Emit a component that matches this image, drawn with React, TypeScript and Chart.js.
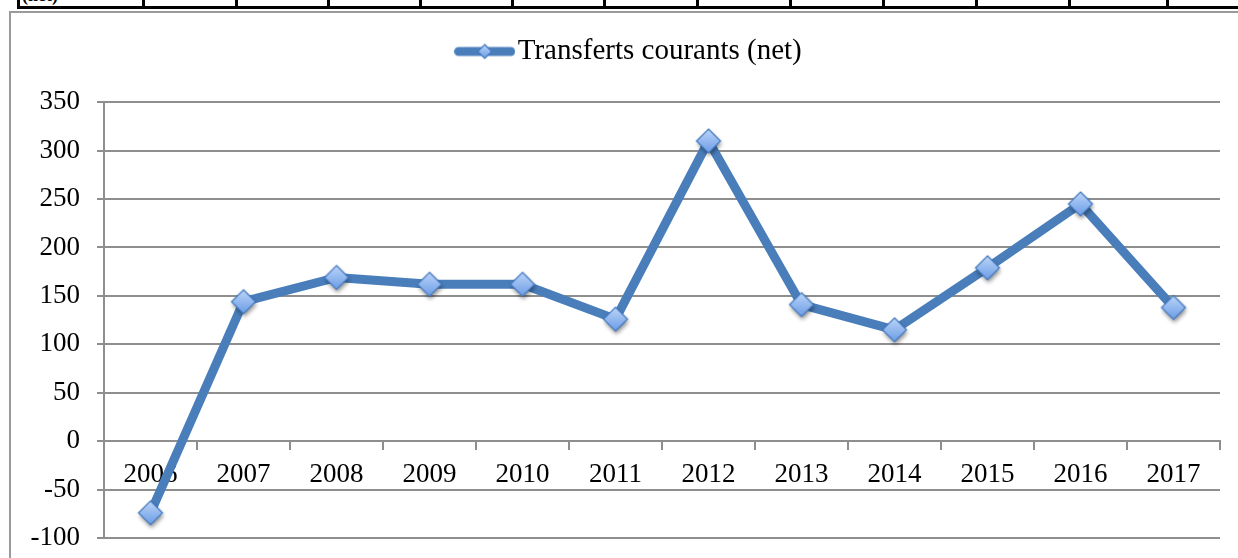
import React, { useEffect, useRef } from "react";
import { Chart, registerables } from "chart.js";

Chart.register(...registerables);

// ---- data ----
const categories = ["2006", "2007", "2008", "2009", "2010", "2011", "2012", "2013", "2014", "2015", "2016", "2017"];
const transfertsCourants = [-74, 144, 169, 162, 162, 126, 310, 141, 115, 179, 245, 138];
const seriesLabel = "Transferts courants (net)";
const yMin = -100;
const yMax = 350;
const yStep = 50;

// ---- layout / style constants ----
const FONT = "'Liberation Serif', 'Times New Roman', serif";
const LINE_COLOR = "#4a7ebb";
const GRID_COLOR = "#8e8e8e";
const tableColumnsX = [18, 143, 236, 328, 420, 512, 604, 697, 790, 883, 976, 1069, 1167];
const LEGEND_SHIFT = 18;

function diamondPath(ctx: CanvasRenderingContext2D, cx: number, cy: number, r: number) {
  ctx.beginPath();
  ctx.moveTo(cx, cy - r);
  ctx.lineTo(cx + r, cy);
  ctx.lineTo(cx, cy + r);
  ctx.lineTo(cx - r, cy);
  ctx.closePath();
}

function paintDiamond(ctx: CanvasRenderingContext2D, cx: number, cy: number, r: number, shadow: boolean) {
  if (shadow) {
    ctx.save();
    ctx.shadowColor = "rgba(0,0,0,0.45)";
    ctx.shadowBlur = 4;
    ctx.shadowOffsetX = 1;
    ctx.shadowOffsetY = 3;
    diamondPath(ctx, cx, cy, r);
    ctx.fillStyle = "#7aa5e4";
    ctx.fill();
    ctx.restore();
  }
  const g = ctx.createLinearGradient(0, cy - r, 0, cy + r);
  g.addColorStop(0, "#bcd5f8");
  g.addColorStop(1, "#6b9ce6");
  diamondPath(ctx, cx, cy, r);
  ctx.fillStyle = g;
  ctx.fill();
  ctx.lineWidth = 1.2;
  ctx.strokeStyle = "#4177bd";
  ctx.stroke();
}

function makeMarker(r: number) {
  const size = Math.ceil(2 * r + 16);
  const c = document.createElement("canvas");
  c.width = size;
  c.height = size;
  const ctx = c.getContext("2d")!;
  paintDiamond(ctx, size / 2, size / 2, r, true);
  return c;
}

function makeLegendSymbol() {
  const w = 61;
  const h = 20;
  const c = document.createElement("canvas");
  c.width = w;
  c.height = h;
  const ctx = c.getContext("2d")!;
  ctx.beginPath();
  ctx.moveTo(4.5, h / 2);
  ctx.lineTo(w - 4.5, h / 2);
  ctx.lineWidth = 9;
  ctx.lineCap = "round";
  ctx.strokeStyle = LINE_COLOR;
  ctx.stroke();
  paintDiamond(ctx, w / 2, h / 2, 7, false);
  return c;
}

const shiftLegendPlugin = {
  id: "shiftLegend",
  afterLayout(chart: any) {
    const l = chart.legend;
    if (l) {
      l.left += LEGEND_SHIFT;
      l.right += LEGEND_SHIFT;
    }
  },
};

export default function App() {
  const canvasRef = useRef<HTMLCanvasElement | null>(null);

  useEffect(() => {
    const canvas = canvasRef.current;
    if (!canvas) return;
    const marker = makeMarker(12);
    const legendSymbol = makeLegendSymbol();

    const chart = new Chart(canvas, {
      type: "line",
      data: {
        labels: categories,
        datasets: [
          {
            label: seriesLabel,
            data: transfertsCourants,
            borderColor: LINE_COLOR,
            backgroundColor: LINE_COLOR,
            borderWidth: 9,
            borderJoinStyle: "round",
            tension: 0,
            fill: false,
            pointStyle: marker as any,
            pointRadius: 12,
            pointHoverRadius: 12,
          },
        ],
      },
      plugins: [shiftLegendPlugin],
      options: {
        responsive: false,
        maintainAspectRatio: false,
        animation: false,
        devicePixelRatio: 1,
        layout: { padding: { left: 0, right: 36, top: 0, bottom: 40 } },
        plugins: {
          tooltip: { enabled: false },
          title: {
            display: true,
            text: " ",
            position: "top",
            weight: 500,
            font: { size: 1 },
            padding: { top: 0, bottom: 25 },
          },
          legend: {
            display: true,
            position: "top",
            align: "center",
            labels: {
              usePointStyle: true,
              pointStyleWidth: 37,
              padding: 29,
              color: "#000",
              font: { family: FONT, size: 29 },
              generateLabels: () => [
                {
                  text: seriesLabel,
                  pointStyle: legendSymbol as any,
                  fillStyle: LINE_COLOR,
                  strokeStyle: LINE_COLOR,
                  lineWidth: 0,
                  hidden: false,
                  datasetIndex: 0,
                } as any,
              ],
            },
          },
        },
        scales: {
          x: {
            type: "category",
            position: { y: 0 } as any,
            offset: true,
            grid: {
              offset: true,
              drawOnChartArea: false,
              drawTicks: true,
              tickLength: 8,
              color: GRID_COLOR,
              lineWidth: 2,
            },
            border: { display: true, color: GRID_COLOR, width: 2 },
            ticks: {
              color: "#000",
              padding: 10,
              maxRotation: 0,
              autoSkip: false,
              font: { family: FONT, size: 27 },
            },
          },
          y: {
            min: yMin,
            max: yMax,
            afterFit: (scale: any) => {
              scale.width = 92;
            },
            grid: {
              color: GRID_COLOR,
              lineWidth: 2,
              drawTicks: true,
              tickLength: 7,
            },
            border: { display: true, color: GRID_COLOR, width: 2 },
            ticks: {
              stepSize: yStep,
              color: "#000",
              padding: 17,
              font: { family: FONT, size: 27 },
            },
          },
        },
      },
    });
    return () => chart.destroy();
  }, []);

  return (
    <div style={{ position: "fixed", inset: 0, overflow: "hidden", background: "#fff" }}>
      {/* fragment of the table above the chart */}
      <div
        style={{
          position: "absolute",
          left: 22,
          top: -15,
          fontFamily: FONT,
          fontWeight: "bold",
          fontSize: 18,
          lineHeight: "20px",
          color: "#000",
        }}
      >
        (net)
      </div>
      <div style={{ position: "absolute", left: 18, top: 6, width: 1300, height: 3, background: "#000" }} />
      {tableColumnsX.map((x) => (
        <div key={x} style={{ position: "absolute", left: x - 1, top: 0, width: 3, height: 9, background: "#000" }} />
      ))}
      {/* chart frame */}
      <div
        style={{
          position: "absolute",
          left: 9,
          top: 11,
          width: 1300,
          height: 600,
          border: "2px solid #9a9a9a",
          boxSizing: "border-box",
        }}
      />
      <canvas
        ref={canvasRef}
        width={1244}
        height={570}
        style={{ position: "absolute", left: 12, top: 8, width: 1244, height: 570 }}
      />
    </div>
  );
}
